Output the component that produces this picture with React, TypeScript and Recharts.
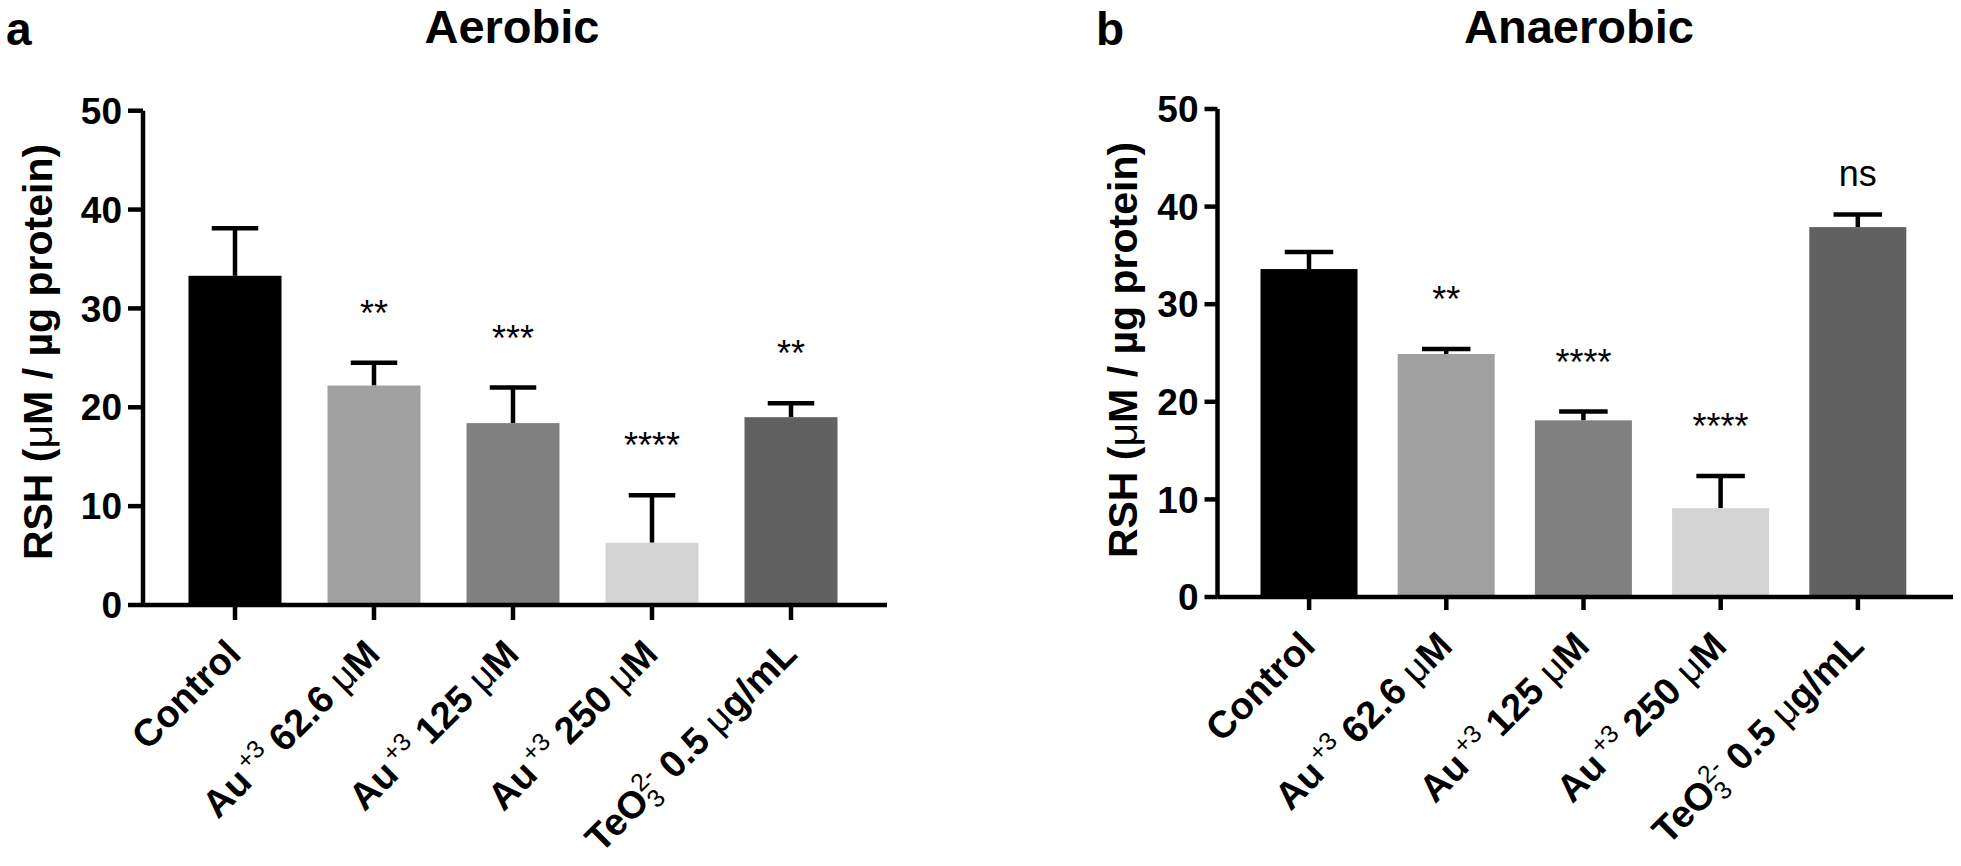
import { BarChart, Bar, XAxis, YAxis } from "recharts";

// Category keys, shared by both panels
const CATEGORIES = ["Control", "Au+3 62.6 µM", "Au+3 125 µM", "Au+3 250 µM", "TeO3 2- 0.5 µg/mL"];

// Panel a — aerobic
const AEROBIC_MEAN = [33.3, 22.2, 18.4, 6.3, 19.0];
const AEROBIC_SD = [4.8, 2.3, 3.6, 4.8, 1.4];
const AEROBIC_SIG = ["", "**", "***", "****", "**"];

// Panel b — anaerobic
const ANAEROBIC_MEAN = [33.6, 24.9, 18.1, 9.1, 37.9];
const ANAEROBIC_SD = [1.75, 0.5, 0.9, 3.3, 1.3];
const ANAEROBIC_SIG = ["", "**", "****", "****", "ns"];

const Y_TICKS = [0, 10, 20, 30, 40, 50];
const BAR_COLORS = ["#000000", "#a0a0a0", "#808080", "#d4d4d4", "#616161"];

// Rich tick labels (super/subscripts, thin µ)
type Part = { text: string; kind?: "sup" | "sub" | "supOver" | "thin" };
const LABEL_PARTS: Part[][] = [
  [{ text: "Control" }],
  [{ text: "Au" }, { text: "+3", kind: "sup" }, { text: " 62.6 " }, { text: "μ", kind: "thin" }, { text: "M" }],
  [{ text: "Au" }, { text: "+3", kind: "sup" }, { text: " 125 " }, { text: "μ", kind: "thin" }, { text: "M" }],
  [{ text: "Au" }, { text: "+3", kind: "sup" }, { text: " 250 " }, { text: "μ", kind: "thin" }, { text: "M" }],
  [{ text: "TeO" }, { text: "3", kind: "sub" }, { text: "2-", kind: "supOver" }, { text: " 0.5 " }, { text: "μ", kind: "thin" }, { text: "g/mL" }],
];

const FONT = "'Liberation Sans', Arial, Helvetica, sans-serif";
const AXIS_W = 4.5;

const rows = (mean: number[], sd: number[], sig: string[]) =>
  CATEGORIES.map((name, i) => ({ name, mean: mean[i], sd: sd[i], sig: sig[i] }));

const aerobicData = rows(AEROBIC_MEAN, AEROBIC_SD, AEROBIC_SIG);
const anaerobicData = rows(ANAEROBIC_MEAN, ANAEROBIC_SD, ANAEROBIC_SIG);

function CategoryTick({ x, y, payload }: any) {
  const idx = CATEGORIES.indexOf(payload.value);
  const parts = LABEL_PARTS[idx] ?? [{ text: String(payload.value) }];
  let shift = 0; // current baseline offset
  const spans = parts.map((p, i) => {
    let target = 0;
    let dx = 0;
    let size = 38;
    let weight: number | string = 700;
    if (p.kind === "sup") {
      target = -15;
      size = 25;
      weight = 400;
      dx = 4;
    } else if (p.kind === "sub") {
      target = 8;
      size = 25;
      weight = 400;
    } else if (p.kind === "supOver") {
      target = -15;
      size = 25;
      weight = 400;
      dx = -14;
    } else if (p.kind === "thin") {
      weight = 400;
    }
    const dy = target - shift;
    shift = target;
    return (
      <tspan key={i} dx={dx || undefined} dy={dy || undefined} fontSize={size} fontWeight={weight}>
        {p.text}
      </tspan>
    );
  });
  return (
    <g transform={`translate(${x + 8},${y + 36})`}>
      <text transform="rotate(-45)" textAnchor="end" fontFamily={FONT} fill="#000">
        {spans}
      </text>
    </g>
  );
}

function ErrorBarShape(props: any) {
  const { x, y, width, height, index, payload } = props;
  const pxPerUnit = payload.mean ? height / payload.mean : 0;
  const cx = x + width / 2;
  const yErr = y - payload.sd * pxPerUnit;
  const capHalf = width / 4;
  const sigOffset = payload.sig.includes("*") ? 37 : 28;
  return (
    <g>
      <line x1={cx} x2={cx} y1={y} y2={yErr} stroke="#000" strokeWidth={AXIS_W} />
      <line x1={cx - capHalf} x2={cx + capHalf} y1={yErr} y2={yErr} stroke="#000" strokeWidth={AXIS_W} />
      <rect x={x} y={y} width={width} height={height} fill={BAR_COLORS[index]} />
      {payload.sig && (
        <text x={cx} y={yErr - sigOffset} textAnchor="middle" fontFamily={FONT} fontSize={36} fill="#000">
          {payload.sig}
        </text>
      )}
    </g>
  );
}

interface PanelProps {
  data: { name: string; mean: number; sd: number; sig: string }[];
  width: number;
  margin: { top: number; right: number; bottom: number; left: number };
  barSize: number;
  padding: { left: number; right: number };
  tickSize: number;
}

function Panel({ data, width, margin, barSize, padding, tickSize }: PanelProps) {
  return (
    <BarChart width={width} height={866} data={data} margin={margin}>
      <XAxis
        dataKey="name"
        interval={0}
        height={30}
        padding={padding}
        axisLine={{ stroke: "#000", strokeWidth: AXIS_W }}
        tickLine={{ stroke: "#000", strokeWidth: AXIS_W }}
        tickSize={tickSize}
        tickMargin={15 - tickSize}
        tick={<CategoryTick />}
      />
      <YAxis
        width={60}
        domain={[0, 50]}
        ticks={Y_TICKS}
        interval={0}
        axisLine={{ stroke: "#000", strokeWidth: AXIS_W }}
        tickLine={{ stroke: "#000", strokeWidth: AXIS_W }}
        tickSize={tickSize}
        tickMargin={6}
        tick={{ fill: "#000", fontSize: 37, fontWeight: 700, fontFamily: FONT }}
      />
      <Bar dataKey="mean" barSize={barSize} shape={<ErrorBarShape />} isAnimationActive={false} />
    </BarChart>
  );
}

export default function App() {
  const textStyle = { fontFamily: FONT, fontWeight: 700, fill: "#000" } as const;
  return (
    <div style={{ position: "fixed", left: 0, top: 0, width: 1961, height: 866, background: "#fff" }}>
      <div style={{ position: "absolute", left: 0, top: 0 }}>
        <Panel
          data={aerobicData}
          width={980}
          margin={{ top: 110.7, right: 93, bottom: 231, left: 83 }}
          barSize={93}
          padding={{ left: 22.5, right: 26.5 }}
          tickSize={15}
        />
      </div>
      <div style={{ position: "absolute", left: 980, top: 0 }}>
        <Panel
          data={anaerobicData}
          width={981}
          margin={{ top: 109, right: 8, bottom: 239, left: 177.5 }}
          barSize={97}
          padding={{ left: 23, right: 26.5 }}
          tickSize={13}
        />
      </div>
      <svg
        width={1961}
        height={866}
        style={{ position: "absolute", left: 0, top: 0, pointerEvents: "none" }}
      >
        <text x={6} y={45} fontSize={46} {...textStyle}>a</text>
        <text x={512} y={43} fontSize={47} textAnchor="middle" {...textStyle}>Aerobic</text>
        <text x={1096} y={45} fontSize={46} {...textStyle}>b</text>
        <text x={1579} y={43} fontSize={47} textAnchor="middle" {...textStyle}>Anaerobic</text>
        <text transform="translate(52,352) rotate(-90)" textAnchor="middle" fontSize={41} {...textStyle}>
          RSH (<tspan fontWeight={400}>μ</tspan>M / µg protein)
        </text>
        <text transform="translate(1137,350) rotate(-90)" textAnchor="middle" fontSize={41} {...textStyle}>
          RSH (<tspan fontWeight={400}>μ</tspan>M / µg protein)
        </text>
      </svg>
    </div>
  );
}
